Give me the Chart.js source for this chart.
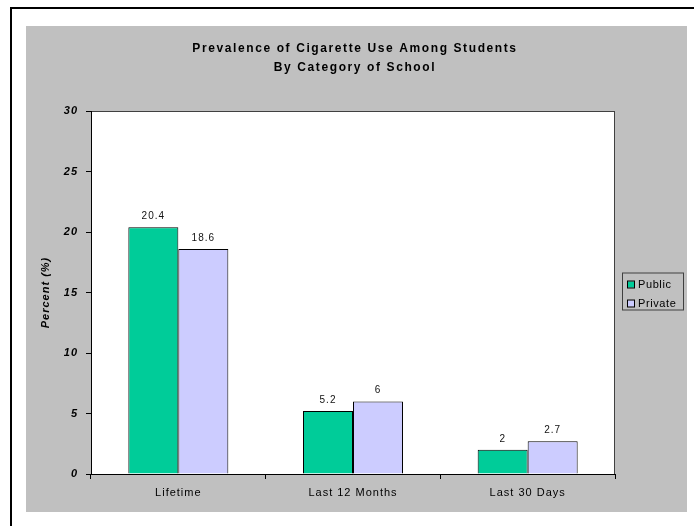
<!DOCTYPE html>
<html>
<head>
<meta charset="utf-8">
<script src="https://cdn.jsdelivr.net/npm/chart.js@4/dist/chart.umd.min.js"></script>
<style>
  html, body { margin: 0; padding: 0; background: #ffffff; }
  #wrap { width: 694px; height: 526px; }
</style>
</head>
<body>
<div id="wrap"><canvas id="myChart" width="694" height="526"></canvas></div>
<script>
const categories = ['Lifetime', 'Last 12 Months', 'Last 30 Days'];
const publicValues = [20.4, 5.2, 2];
const privateValues = [18.6, 6, 2.7];
const seriesNames = ['Public', 'Private'];
const titleLines = ['Prevalence of Cigarette Use Among Students', 'By Category of School'];
const yMin = 0;
const yMax = 30;
const yStep = 5;

const FONT = "'Liberation Sans', Arial, Helvetica, sans-serif";
const GREEN = '#00cc99';
const LAVENDER = '#ccccff';

// frame, gray panel and white plot box behind everything
const backdrop = {
    id: 'backdrop',
    beforeDraw(chart) {
        const c = chart.ctx;
        const a = chart.chartArea;
        c.save();
        c.letterSpacing = '0px';
        c.fillStyle = '#ffffff';
        c.fillRect(0, 0, chart.width, chart.height);
        c.fillStyle = '#000000';
        c.fillRect(10, 7, chart.width - 10, 2);
        c.fillRect(10, 7, 2, chart.height - 7);
        c.fillStyle = '#c0c0c0';
        c.fillRect(26, 26, 661, 486);
        c.fillStyle = '#ffffff';
        c.fillRect(a.left, a.top, a.right - a.left, a.bottom - a.top);
        c.strokeStyle = '#404040';
        c.lineWidth = 1;
        c.strokeRect(a.left + 0.5, a.top + 0.5, a.right - a.left - 1, a.bottom - a.top);

        // two-line heading, spaced out like the old spreadsheet style
        c.font = 'bold 12px ' + FONT;
        c.fillStyle = '#000000';
        c.textAlign = 'center';
        c.textBaseline = 'middle';
        c.letterSpacing = '1.6px';
        const cx = (a.left + a.right) / 2 + 2;
        titleLines.forEach((line, i) => {
            c.fillText(line, cx, 49 + i * 19);
        });
        c.restore();
        chart.ctx.letterSpacing = '1px';
    },
    afterDraw(chart) {
        chart.ctx.letterSpacing = '0px';
    }
};

// value written above each bar
const barValues = {
    id: 'barValues',
    afterDatasetsDraw(chart) {
        const c = chart.ctx;
        c.save();
        c.font = '10px ' + FONT;
        c.fillStyle = '#111111';
        c.textAlign = 'center';
        c.textBaseline = 'middle';
        chart.data.datasets.forEach((ds, i) => {
            chart.getDatasetMeta(i).data.forEach((bar, j) => {
                c.fillText(String(ds.data[j]), bar.x, bar.y - 11);
            });
        });
        c.restore();
    }
};

// boxed legend to the right of the plot
const boxLegend = {
    id: 'boxLegend',
    afterDraw(chart) {
        const c = chart.ctx;
        const a = chart.chartArea;
        const x = a.right + 7;
        const y = (a.top + a.bottom) / 2 - 20;
        c.save();
        c.strokeStyle = '#404040';
        c.lineWidth = 1;
        c.strokeRect(x + 0.5, y + 0.5, 61, 37);
        c.font = '11px ' + FONT;
        c.textBaseline = 'middle';
        c.letterSpacing = '0.6px';
        chart.data.datasets.forEach((ds, i) => {
            const cy = y + 12 + i * 19;
            c.fillStyle = ds.backgroundColor;
            c.fillRect(x + 6, cy - 3, 6, 6);
            c.strokeStyle = '#000000';
            c.strokeRect(x + 5.5, cy - 3.5, 7, 7);
            c.fillStyle = '#000000';
            c.fillText(ds.label, x + 16, cy);
        });
        c.restore();
    }
};

const ctx = document.getElementById('myChart').getContext('2d');
const myChart = new Chart(ctx, {
    type: 'bar',
    data: {
        labels: categories,
        datasets: [{
            label: seriesNames[0],
            data: publicValues,
            backgroundColor: GREEN,
            borderColor: '#000000',
            borderWidth: 1
        }, {
            label: seriesNames[1],
            data: privateValues,
            backgroundColor: LAVENDER,
            borderColor: '#000000',
            borderWidth: 1
        }]
    },
    options: {
        responsive: false,
        animation: false,
        devicePixelRatio: 1,
        layout: {
            padding: { top: 111, left: 26, right: 79, bottom: 14 }
        },
        datasets: {
            bar: {
                categoryPercentage: 0.5725,
                barPercentage: 1
            }
        },
        scales: {
            x: {
                afterFit(scale) { scale.height = 38; },
                grid: {
                    display: true,
                    offset: true,
                    drawOnChartArea: false,
                    drawTicks: true,
                    tickLength: 5,
                    color: '#000000'
                },
                border: { display: true, color: '#000000', width: 1 },
                ticks: {
                    color: '#000000',
                    padding: 7,
                    maxRotation: 0,
                    font: { size: 11, family: FONT }
                }
            },
            y: {
                min: yMin,
                max: yMax,
                afterFit(scale) { scale.width = 65; },
                grid: {
                    display: true,
                    drawOnChartArea: false,
                    drawTicks: true,
                    tickLength: 5,
                    color: '#000000'
                },
                border: { display: true, color: '#000000', width: 1 },
                ticks: {
                    stepSize: yStep,
                    color: '#000000',
                    padding: 8,
                    font: { size: 11, family: FONT, weight: 'bold', style: 'italic' }
                },
                title: {
                    display: true,
                    text: 'Percent (%)',
                    color: '#000000',
                    padding: { top: 13, bottom: 0 },
                    font: { size: 11, family: FONT, weight: 'bold', style: 'italic' }
                }
            }
        },
        plugins: {
            title: { display: false },
            legend: { display: false },
            tooltip: { enabled: false }
        }
    },
    plugins: [backdrop, barValues, boxLegend]
});
</script>
</body>
</html>
